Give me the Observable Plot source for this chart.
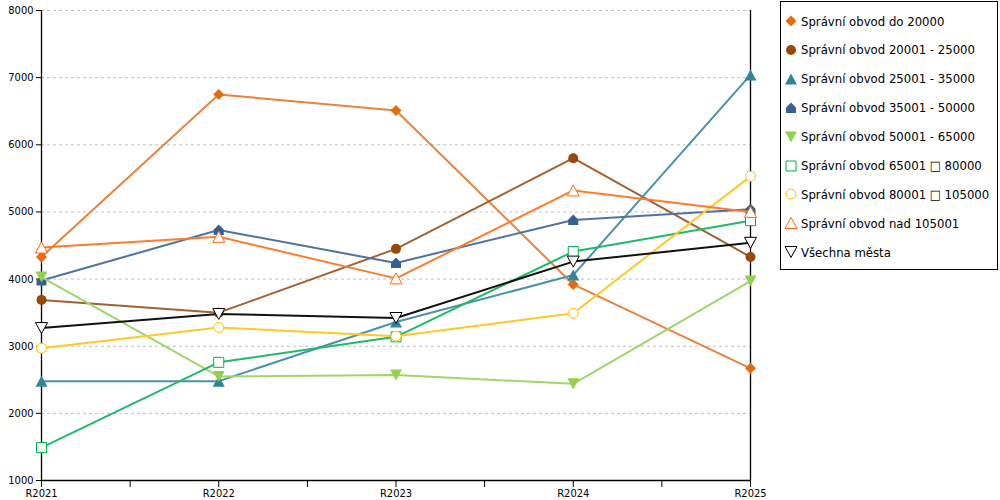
<!DOCTYPE html>
<html>
<head>
<meta charset="utf-8">
<script src="https://cdn.jsdelivr.net/npm/d3@7"></script>
<script src="https://cdn.jsdelivr.net/npm/@observablehq/plot@0.6"></script>
<style>
  html, body { margin: 0; padding: 0; background: #fff; }
  #wrap { position: relative; width: 1000px; height: 500px; }
  #legend { position: absolute; left: 780px; top: 1px; width: 218px; height: 269px; border: 1px solid #000; box-sizing: border-box; background: #fff;
    font-family: "DejaVu Sans Condensed", "DejaVu Sans", sans-serif; font-stretch: condensed; font-size: 13px; color: #000; }
  .item { position: absolute; left: 0; height: 20px; display: flex; align-items: center; white-space: nowrap; }
  .item svg { margin-left: 3px; margin-right: 3px; }
</style>
</head>
<body>
<div id="wrap"><div id="chart"></div><div id="legend"></div></div>
<script>
// ---- data ----
const years = ["R2021", "R2022", "R2023", "R2024", "R2025"];
const seriesNames = [
  "Správní obvod do 20000",
  "Správní obvod 20001 - 25000",
  "Správní obvod 25001 - 35000",
  "Správní obvod 35001 - 50000",
  "Správní obvod 50001 - 65000",
  "Správní obvod 65001 □ 80000",
  "Správní obvod 80001 □ 105000",
  "Správní obvod nad 105001",
  "Všechna města"
];
const do20000      = [4330, 6750, 6510, 3920, 2670];
const s20001_25000 = [3690, 3500, 4450, 5800, 4330];
const s25001_35000 = [2480, 2480, 3360, 4060, 7040];
const s35001_50000 = [3980, 4730, 4240, 4880, 5040];
const s50001_65000 = [4030, 2550, 2570, 2440, 3970];
const s65001_80000 = [1490, 2760, 3140, 4410, 4870];
const s80001_105000 = [2970, 3280, 3150, 3490, 5530];
const nad105001    = [4470, 4630, 4010, 5320, 5000];
const vsechnaMesta = [3270, 3480, 3420, 4260, 4540];
const yTicks = [1000, 2000, 3000, 4000, 5000, 6000, 7000, 8000];

const seriesValues = [do20000, s20001_25000, s25001_35000, s35001_50000, s50001_65000, s65001_80000, s80001_105000, nad105001, vsechnaMesta];
const colors = ["#E46C0A", "#984807", "#31849B", "#376092", "#92D050", "#00B050", "#FFC000", "#FF6A10", "#000000"];
const lineColors = ["#E9823A", "#A3622F", "#4A92A8", "#4F73A0", "#9FD66A", "#20B96A", "#FFC825", "#FF7A2A", "#111111"];
const filled = [true, true, true, true, true, false, false, false, false];

// ---- symbols ----
const sym = {
  diamond: {draw(c) { const r = 5.5; c.moveTo(0, -r); c.lineTo(r, 0); c.lineTo(0, r); c.lineTo(-r, 0); c.closePath(); }},
  circle: {draw(c) { c.moveTo(5, 0); c.arc(0, 0, 5, 0, 2 * Math.PI); c.closePath(); }},
  triUp: {draw(c) { c.moveTo(0, -5.5); c.lineTo(6, 5.5); c.lineTo(-6, 5.5); c.closePath(); }},
  house: {draw(c) { c.moveTo(-5, 5); c.lineTo(5, 5); c.lineTo(5, -0.5); c.lineTo(0, -5.5); c.lineTo(-5, -0.5); c.closePath(); }},
  triDown: {draw(c) { c.moveTo(-6, -5.5); c.lineTo(6, -5.5); c.lineTo(0, 5.5); c.closePath(); }},
  square: {draw(c) { c.moveTo(-5, -5); c.lineTo(5, -5); c.lineTo(5, 5); c.lineTo(-5, 5); c.closePath(); }}
};
const symbols = [sym.diamond, sym.circle, sym.triUp, sym.house, sym.triDown, sym.square, sym.circle, sym.triUp, sym.triDown];

const rows = [];
seriesNames.forEach((name, si) => seriesValues[si].forEach((v, i) => rows.push({series: name, si, xi: i, value: v})));

const marks = [
  Plot.ruleY(yTicks.filter(d => d > 1000), {y: d => d, stroke: "#c0c0c0", strokeDasharray: "3,3", strokeWidth: 1}),
  Plot.axisY({ticks: yTicks, tickSize: 5, tickPadding: 3, label: null, fontSize: 11, tickFormat: d => String(d)}),
  Plot.axisX({ticks: d3.range(0, 4.01, 0.5), tickSize: 7, tickPadding: 2, label: null, fontSize: 11,
    tickFormat: d => Number.isInteger(d) ? years[d] : ""}),
  Plot.ruleX([0, 4], {stroke: "#000", strokeWidth: 1.3}),
  Plot.ruleY([1000], {stroke: "#000", strokeWidth: 1.3})
];
seriesNames.forEach((name, si) => {
  const data = rows.filter(r => r.si === si);
  marks.push(Plot.line(data, {x: "xi", y: "value", stroke: lineColors[si], strokeWidth: 2}));
  marks.push(Plot.dot(data, {x: "xi", y: "value", symbol: symbols[si],
    fill: filled[si] ? colors[si] : "#fff", stroke: filled[si] ? "none" : colors[si], strokeWidth: 1}));
});

const chart = Plot.plot({
  width: 1000, height: 500,
  marginLeft: 41, marginRight: 250, marginTop: 10, marginBottom: 20,
  style: {fontFamily: "'DejaVu Sans Condensed', 'DejaVu Sans', sans-serif", fontStretch: "condensed", color: "#000", background: "#fff", overflow: "visible"},
  x: {type: "linear", domain: [0, 4], axis: null},
  y: {type: "linear", domain: [1000, 8000], axis: null},
  marks
});
document.getElementById("chart").appendChild(chart);

// ---- legend ----
const legend = document.getElementById("legend");
seriesNames.forEach((name, si) => {
  const item = document.createElement("div");
  item.className = "item";
  item.style.top = (9 + si * 28.9) + "px";
  const p = d3.path();
  symbols[si].draw(p);
  item.innerHTML = `<svg width="14" height="14" viewBox="-7 -7 14 14"><path d="${p.toString()}" fill="${filled[si] ? colors[si] : "#fff"}" stroke="${filled[si] ? "none" : colors[si]}" stroke-width="1"/></svg><span>${name}</span>`;
  legend.appendChild(item);
});
</script>
</body>
</html>
